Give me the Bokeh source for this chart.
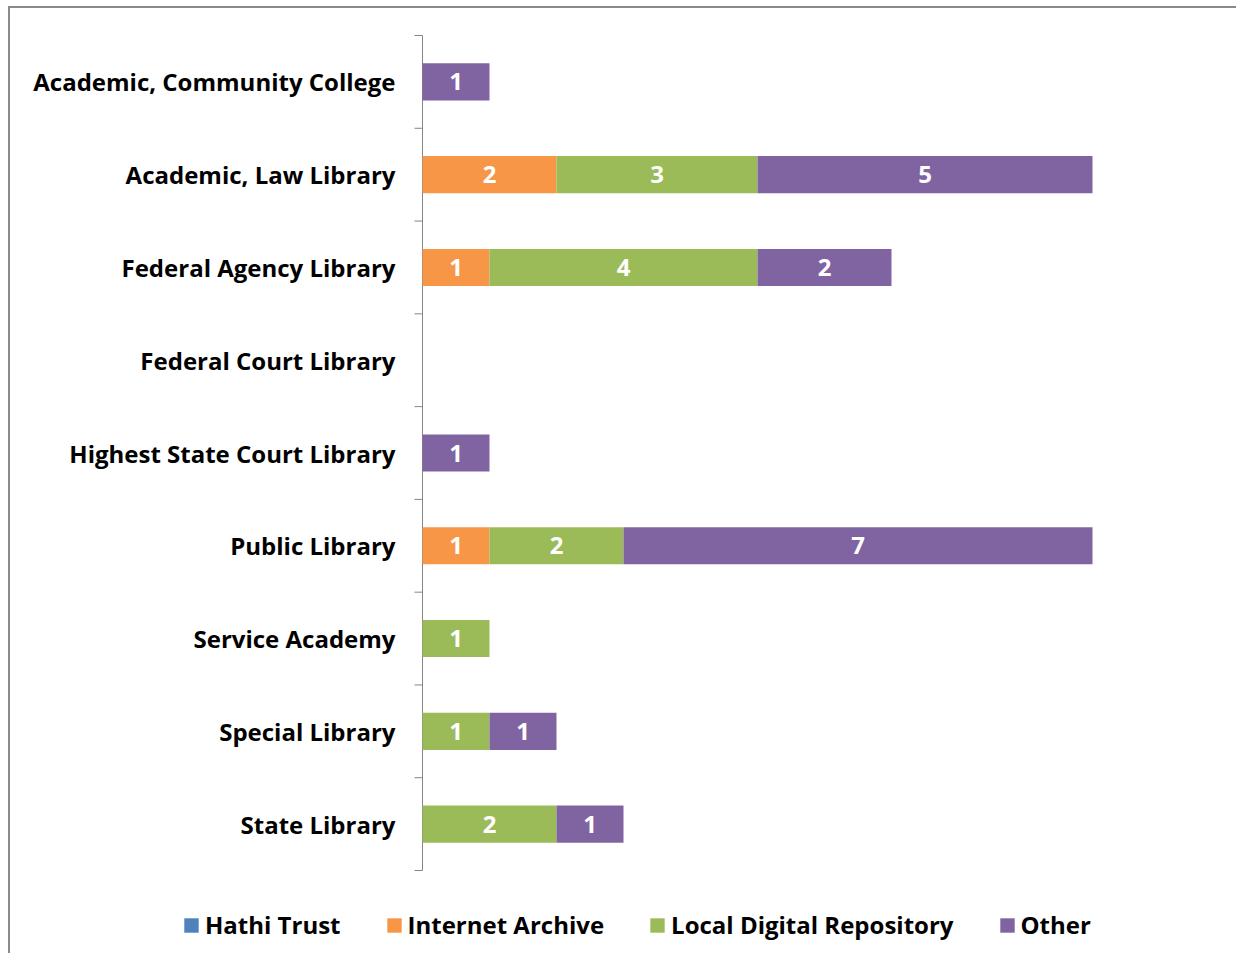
import math
from bokeh.plotting import figure
from bokeh.models import Range1d, Legend, LegendItem, ColumnDataSource
from bokeh.core.properties import value
from bokeh.embed import file_html
from bokeh.resources import INLINE

categories = ["Academic, Community College", "Academic, Law Library", "Federal Agency Library",
              "Federal Court Library", "Highest State Court Library", "Public Library",
              "Service Academy", "Special Library", "State Library"]
series_names = ["Hathi Trust", "Internet Archive", "Local Digital Repository", "Other"]
hathi_trust = [0, 0, 0, 0, 0, 0, 0, 0, 0]
internet_archive = [0, 2, 1, 0, 0, 1, 0, 0, 0]
local_digital_repository = [0, 3, 4, 0, 0, 2, 1, 1, 2]
other = [1, 5, 2, 0, 1, 7, 0, 1, 1]
colors = ["#4F81BD", "#F79646", "#9BBB59", "#8064A2"]

FONT = "Open Sans"
W, H = 1236, 953
n = len(categories)
ypos = [i + 0.5 for i in range(n)]

# pixel geometry of the plotting area
x0_px, px_per_unit_x = 422, 67.0
y0_px, px_per_unit_y = 35, 835 / 9

p = figure(width=W, height=H, output_backend="svg", toolbar_location=None,
           x_range=Range1d(-x0_px / px_per_unit_x, (W - x0_px) / px_per_unit_x),
           y_range=Range1d((H - y0_px) / px_per_unit_y, -y0_px / px_per_unit_y),
           min_border=0)
p.border_fill_color = None
p.background_fill_color = None
p.styles = {"background": "linear-gradient(#8a8a8a,#8a8a8a) 8px 6px / 2px 100% no-repeat, "
                          "linear-gradient(#8a8a8a,#8a8a8a) 8px 6px / 100% 2px no-repeat, white"}
p.outline_line_color = None
p.grid.visible = False
p.axis.visible = False

# category axis (line, boundary ticks, labels)
p.segment(x0=[0], y0=[0], x1=[0], y1=[n], line_color="#868686", line_width=1)
p.ray(x=[0] * (n + 1), y=list(range(n + 1)), length=8, length_units="screen",
      angle=math.pi, line_color="#868686", line_width=1)
p.text(x=[0] * n, y=ypos, text=categories, x_offset=-27, text_align="right",
       text_baseline="middle", text_color="#000000", text_font=value(FONT),
       text_font_style="bold", text_font_size="24px")

series = [hathi_trust, internet_archive, local_digital_repository, other]
left = [0.0] * n
renderers = []
lx, ly, lt = [], [], []
for name, vals, col in zip(series_names, series, colors):
    right = [l + v for l, v in zip(left, vals)]
    src = ColumnDataSource(dict(y=ypos, left=left, right=right))
    r = p.hbar(y="y", left="left", right="right", height=0.4, source=src,
               fill_color=col, line_color=None)
    renderers.append((name, r))
    for y, l, v in zip(ypos, left, vals):
        if v > 0:
            lx.append(l + v / 2)
            ly.append(y)
            lt.append(str(v))
    left = right

p.text(x=lx, y=ly, text=lt, text_align="center", text_baseline="middle",
       text_color="white", text_font=value(FONT), text_font_style="bold",
       text_font_size="24px")

legend = Legend(items=[LegendItem(label=nm, renderers=[r]) for nm, r in renderers],
                orientation="horizontal", location=(182, 12),
                label_text_font=FONT, label_text_font_style="bold",
                label_text_font_size="24px", label_text_color="#000000",
                glyph_width=18, glyph_height=18,
                label_standoff=5, spacing=44, border_line_color=None,
                background_fill_alpha=0, padding=0, margin=0)
p.add_layout(legend, "center")

open("out.html", "w").write(file_html(p, INLINE))
